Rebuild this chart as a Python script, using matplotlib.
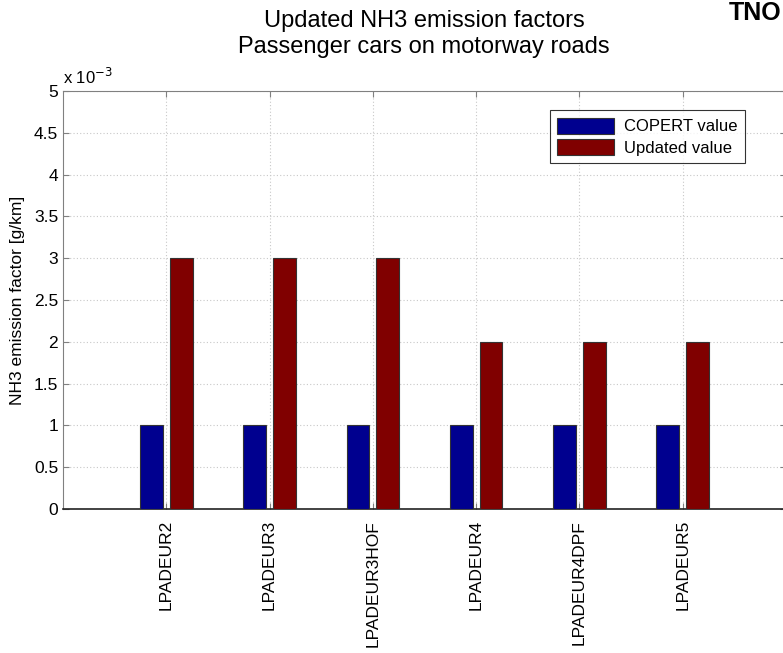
import numpy as np
import matplotlib
matplotlib.use('Agg')
import matplotlib.pyplot as plt
from matplotlib.ticker import FuncFormatter

# data (g/km)
categories = ['LPADEUR2', 'LPADEUR3', 'LPADEUR3HOF', 'LPADEUR4', 'LPADEUR4DPF', 'LPADEUR5']
copert_value = [0.001, 0.001, 0.001, 0.001, 0.001, 0.001]
updated_value = [0.003, 0.003, 0.003, 0.002, 0.002, 0.002]

plt.rcParams['font.family'] = ['Liberation Sans', 'DejaVu Sans']

W, H = 783, 653
fig = plt.figure(figsize=(W / 100, H / 100), dpi=100)
# axes box in pixels: left 63, right 786 (just past the edge), top 91, bottom 509
ax = fig.add_axes([63 / W, (H - 509) / H, (786 - 63) / W, (509 - 91) / H])

x = np.arange(1, len(categories) + 1)
bw = 0.22
off = 0.145
ax.bar(x - off, copert_value, bw, color='#00008F', edgecolor='#333333', linewidth=0.8,
       label='COPERT value', zorder=3)
ax.bar(x + off, updated_value, bw, color='#800000', edgecolor='#333333', linewidth=0.8,
       label='Updated value', zorder=3)

ax.set_xlim(0, 7)
ax.set_ylim(0, 0.005)
ax.set_xticks(x)
ax.set_xticklabels(categories, rotation=90, fontsize=12.5)
ax.set_yticks(np.arange(0, 0.0051, 0.0005))
ax.yaxis.set_major_formatter(FuncFormatter(lambda v, p: '%g' % round(v * 1000, 2)))
ax.tick_params(axis='y', labelsize=12.5)
ax.tick_params(direction='in', length=4, color='#808080', top=True, right=True)
ax.tick_params(axis='x', pad=8)

ax.grid(True, linestyle=(0, (1, 2)), color='#c8c8c8', linewidth=0.8, zorder=0)
for s in ['left', 'top', 'right']:
    ax.spines[s].set_color('#808080')
ax.spines['bottom'].set_color('#222222')
ax.spines['bottom'].set_linewidth(1.2)

ax.set_ylabel('NH3 emission factor [g/km]', fontsize=12.5, labelpad=6)

fig.text(63 / W, 1 - 77 / H, r'x 10$^{-3}$', fontsize=12, ha='left', va='center')
fig.text(424 / W, 1 - 34 / H, 'Updated NH3 emission factors\nPassenger cars on motorway roads',
         fontsize=17, ha='center', va='center', linespacing=1.2)
# logo in the corner (cropped in the original), kept inside the figure here
fig.text(781 / W, 1 - 13 / H, 'TNO', fontsize=18, fontweight='black', ha='right', va='center')

leg = ax.legend(loc='upper right', bbox_to_anchor=((745 - 63) / 723, (509 - 110) / 418),
                borderaxespad=0, fontsize=12, frameon=True, fancybox=False, edgecolor='black',
                handlelength=3.4, handleheight=1.1, borderpad=0.45, labelspacing=0.3,
                handletextpad=0.6)
leg.get_frame().set_linewidth(0.8)

fig.savefig('out.png', dpi=100)
